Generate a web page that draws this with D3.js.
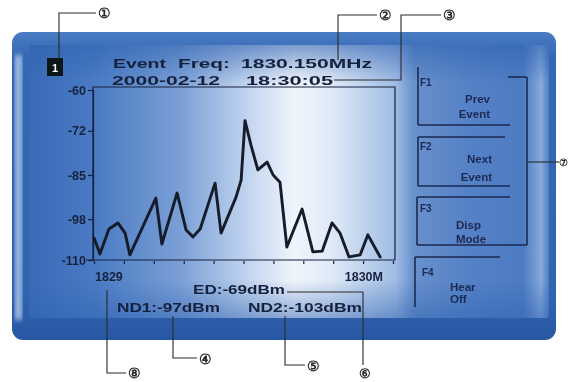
<!DOCTYPE html>
<html>
<head>
<meta charset="utf-8">
<script src="https://cdn.jsdelivr.net/npm/d3@7"></script>
<style>
  html, body { margin: 0; padding: 0; background: #fff; }
  svg { display: block; }
  text { font-family: "Liberation Sans", Arial, sans-serif; font-weight: bold; }
</style>
</head>
<body>
<svg id="chart" width="570" height="382"></svg>
<script>
// Spectrum trace: frequency (MHz) and level (dBm)
const freqs = [1829.000, 1829.020, 1829.050, 1829.080, 1829.104, 1829.120, 1829.161, 1829.207,
  1829.227, 1829.278, 1829.308, 1829.331, 1829.355, 1829.405, 1829.425, 1829.475, 1829.492,
  1829.505, 1829.525, 1829.548, 1829.579, 1829.599, 1829.622, 1829.645, 1829.696, 1829.732,
  1829.763, 1829.796, 1829.823, 1829.853, 1829.890, 1829.916, 1829.957];
const levels = [-103.5, -108.2, -100.9, -99.1, -102.1, -108.5, -100.6, -91.8,
  -105.3, -90.3, -101.2, -103.2, -100.9, -87.4, -102.1, -91.5, -86.5,
  -69, -76.2, -83.5, -81.2, -85.0, -87.1, -106.2, -95.0, -107.6,
  -107.4, -99.1, -102.1, -109.1, -108.5, -102.6, -109.1];

const yTicks = [-60, -72, -85, -98, -110];
const xTickLabels = ["1829", "1830M"];
const eventFreq = "1830.150MHz";
const eventDate = "2000-02-12";
const eventTime = "18:30:05";
const noiseLevels = [-97, -103];        // ND1, ND2
const softKeys = [["F1", "Prev", "Event"], ["F2", "Next", "Event"], ["F3", "Disp", "Mode"], ["F4", "Hear", "Off"]];
const callouts = ["①", "②", "③", "④", "⑤", "⑥", "⑦", "⑧"];

const ink = "#17213d";
const svg = d3.select("#chart");
const defs = svg.append("defs");

// bezel gradient
const bez = defs.append("linearGradient").attr("id", "bezel").attr("x1", 0).attr("y1", 0).attr("x2", 0).attr("y2", 1);
[[0, "#4a7cc2"], [0.08, "#3669b5"], [0.85, "#3064b1"], [1, "#2857a3"]].forEach(([o, c]) =>
  bez.append("stop").attr("offset", o).attr("stop-color", c));

// screen glare, horizontal
const scr = defs.append("linearGradient").attr("id", "screen")
  .attr("gradientUnits", "userSpaceOnUse").attr("x1", 29).attr("x2", 549).attr("y1", 0).attr("y2", 0);
[[0, "#3a6bb7"], [0.06, "#4272bd"], [0.127, "#4a7bc3"], [0.29, "#7a9fd6"], [0.425, "#c4d6ef"],
 [0.51, "#f0f5fc"], [0.58, "#e0eaf7"], [0.705, "#a0bce4"], [0.74, "#6890cc"], [0.846, "#5581c6"],
 [0.95, "#4d7bc2"], [0.985, "#86aadb"], [1, "#4f7ec4"]].forEach(([o, c]) =>
  scr.append("stop").attr("offset", o).attr("stop-color", c));

// screen vignette, vertical
const vig = defs.append("linearGradient").attr("id", "vignette").attr("x1", 0).attr("y1", 0).attr("x2", 0).attr("y2", 1);
[[0, "#2f62b0", 0.6], [0.14, "#2f62b0", 0], [0.86, "#2f62b0", 0], [1, "#2f62b0", 0.5]].forEach(([o, c, a]) =>
  vig.append("stop").attr("offset", o).attr("stop-color", c).attr("stop-opacity", a));

const soft = defs.append("filter").attr("id", "soft");
soft.append("feGaussianBlur").attr("stdDeviation", 0.45);
const glow = defs.append("filter").attr("id", "glow");
glow.append("feGaussianBlur").attr("stdDeviation", 2.5);

// bezel and screen
svg.append("rect").attr("x", 12).attr("y", 32).attr("width", 544).attr("height", 308).attr("rx", 11)
  .attr("fill", "url(#bezel)");
svg.append("rect").attr("x", 15).attr("y", 55).attr("width", 7).attr("height", 265)
  .attr("fill", "#c4d6ef").attr("opacity", 0.8).attr("filter", "url(#glow)");
svg.append("rect").attr("x", 29).attr("y", 45).attr("width", 520).attr("height", 273).attr("rx", 4)
  .attr("fill", "url(#screen)");
svg.append("rect").attr("x", 29).attr("y", 45).attr("width", 520).attr("height", 273).attr("rx", 4)
  .attr("fill", "url(#vignette)");

const g = svg.append("g").attr("filter", "url(#soft)");

// scales
const x = d3.scaleLinear().domain([1829, 1830]).range([94, 393]);
const y = d3.scaleLinear().domain([-60, -110]).range([90, 260]);

// plot frame
g.append("path").attr("d", `M${x.range()[0] - 1},260V87H395V260`)
  .attr("fill", "none").attr("stroke", ink).attr("stroke-width", 1.2);

// y axis
const yAxis = g.append("g").attr("transform", "translate(93,0)")
  .call(d3.axisLeft(y).tickValues(yTicks).tickSize(5).tickPadding(2).tickFormat(d => String(d)));
yAxis.select(".domain").attr("stroke", ink).attr("stroke-width", 1.2);
yAxis.selectAll(".tick line").attr("stroke", ink).attr("stroke-width", 1.2);
yAxis.selectAll(".tick text").attr("fill", ink).attr("font-size", 12.5)
  .attr("font-family", "Liberation Sans, Arial, sans-serif").attr("font-weight", "bold");

// x axis
const xAxis = g.append("g").attr("transform", "translate(0,260)")
  .call(d3.axisBottom(x).ticks(10).tickSize(4).tickFormat(""));
xAxis.select(".domain").attr("d", "M86,0H395").attr("stroke", ink).attr("stroke-width", 1.2);
xAxis.selectAll(".tick line").attr("stroke", ink).attr("stroke-width", 1.2).attr("y1", 1);

g.append("text").attr("x", x(1829) + 1).attr("y", 281).attr("font-size", 12.5).attr("fill", ink)
  .text(xTickLabels[0]);
g.append("text").attr("x", x(1830) - 10).attr("y", 281).attr("text-anchor", "end").attr("font-size", 12.5)
  .attr("fill", ink).text(xTickLabels[1]);

// trace
const trace = freqs.map((f, i) => [f, levels[i]]);
g.append("path").datum(trace)
  .attr("fill", "none").attr("stroke", "#151a2a").attr("stroke-width", 2.9)
  .attr("stroke-linejoin", "round").attr("stroke-linecap", "round")
  .attr("d", d3.line().x(d => x(d[0])).y(d => y(d[1])).curve(d3.curveLinear));

// header
g.append("rect").attr("x", 47).attr("y", 58).attr("width", 16).attr("height", 18).attr("fill", "#101214");
g.append("text").attr("x", 55).attr("y", 72).attr("text-anchor", "middle").attr("font-size", 11)
  .attr("fill", "#fff").text("1");

const hdr = [
  ["Event", 113, 68, 53], ["Freq:", 178, 68, 52], [eventFreq, 241, 68, 131],
  [eventDate, 112, 85, 108], [eventTime, 246, 85, 87]
];
hdr.forEach(([t, tx, ty, w]) => g.append("text").attr("x", tx).attr("y", ty).attr("font-size", 13)
  .attr("fill", ink).attr("textLength", w).attr("lengthAdjust", "spacingAndGlyphs").text(t));

// readouts
const peak = d3.max(levels);
g.append("text").attr("x", 193).attr("y", 294).attr("font-size", 13).attr("fill", ink)
  .attr("textLength", 92).attr("lengthAdjust", "spacingAndGlyphs").text(`ED:${peak}dBm`);
g.append("text").attr("x", 117).attr("y", 312).attr("font-size", 13).attr("fill", ink)
  .attr("textLength", 103).attr("lengthAdjust", "spacingAndGlyphs").text(`ND1:${noiseLevels[0]}dBm`);
g.append("text").attr("x", 248).attr("y", 312).attr("font-size", 13).attr("fill", ink)
  .attr("textLength", 114).attr("lengthAdjust", "spacingAndGlyphs").text(`ND2:${noiseLevels[1]}dBm`);

// soft keys
const keyLine = "#1c2a52";
const segs = [
  [418, 67, 418, 125], [418, 125, 510, 125], [508, 77, 527, 77], [527, 77, 527, 245],
  [418, 137, 505, 137], [418, 137, 418, 186], [418, 186, 510, 186],
  [417, 197, 510, 197], [417, 197, 417, 245], [417, 245, 527, 245],
  [415, 257, 500, 257], [415, 257, 415, 307]
];
g.selectAll(".seg").data(segs).join("line").attr("class", "seg")
  .attr("x1", d => d[0]).attr("y1", d => d[1]).attr("x2", d => d[2]).attr("y2", d => d[3])
  .attr("stroke", keyLine).attr("stroke-width", 1.6);

const keyPos = [
  { fx: 420, fy: 86, a: "end", lx: 490, y1: 103, y2: 118 },
  { fx: 420, fy: 150, a: "end", lx: 492, y1: 163, y2: 181 },
  { fx: 420, fy: 212, a: "start", lx: 456, y1: 229, y2: 243 },
  { fx: 422, fy: 276, a: "start", lx: 450, y1: 291, y2: 303 }
];
softKeys.forEach((k, i) => {
  const p = keyPos[i];
  g.append("text").attr("x", p.fx).attr("y", p.fy).attr("font-size", 10).attr("fill", keyLine).text(k[0]);
  g.append("text").attr("x", p.lx).attr("y", p.y1).attr("font-size", 11.5).attr("text-anchor", p.a)
    .attr("fill", keyLine).text(k[1]);
  g.append("text").attr("x", p.lx).attr("y", p.y2).attr("font-size", 11.5).attr("text-anchor", p.a)
    .attr("fill", keyLine).text(k[2]);
});

// callout leaders
const leaders = [
  { pts: [[59, 58], [59, 13], [96, 13]], n: 0, tx: 104, ty: 13, fs: 14, a: "middle" },
  { pts: [[338, 60], [338, 15], [377, 15]], n: 1, tx: 385, ty: 15, fs: 14, a: "middle" },
  { pts: [[334, 80], [401, 80], [401, 15], [441, 15]], n: 2, tx: 449, ty: 15, fs: 14, a: "middle" },
  { pts: [[173, 316], [173, 358], [197, 358]], n: 3, tx: 205, ty: 359, fs: 14, a: "middle" },
  { pts: [[285, 316], [285, 365], [305, 365]], n: 4, tx: 313, ty: 366, fs: 14, a: "middle" },
  { pts: [[287, 292], [363, 292], [363, 365]], n: 5, tx: 365, ty: 373, fs: 13, a: "middle" },
  { pts: [[527, 162], [559, 162]], n: 6, tx: 559, ty: 162, fs: 10, a: "start" },
  { pts: [[107, 290], [107, 373], [126, 373]], n: 7, tx: 134, ty: 373, fs: 14, a: "middle" }
];
const lc = svg.append("g").attr("filter", "url(#soft)");
leaders.forEach(l => {
  lc.append("path").attr("d", d3.line()(l.pts)).attr("fill", "none").attr("stroke", "#2a2a2a").attr("stroke-width", 1.1);
  lc.append("text").attr("x", l.tx).attr("y", l.ty).attr("dy", "0.35em").attr("text-anchor", l.a)
    .attr("font-size", l.fs).attr("font-weight", "normal").attr("font-family", "DejaVu Sans, sans-serif")
    .attr("fill", "#2a2a2a").text(callouts[l.n]);
});
</script>
</body>
</html>
